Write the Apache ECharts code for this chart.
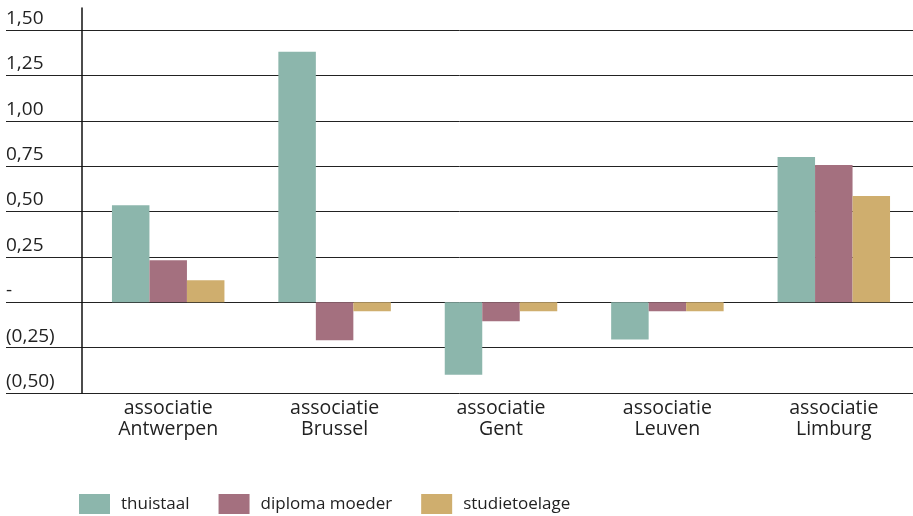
<!DOCTYPE html>
<html>
<head>
<meta charset="utf-8">
<script src="https://cdn.jsdelivr.net/npm/echarts@6/dist/echarts.min.js"></script>
<style>
  html, body { margin: 0; padding: 0; background: #fff; overflow: hidden; }
  #chart { width: 917px; height: 516px; }
</style>
</head>
<body>
<div id="chart"></div>
<script>
// categories en waarden
const categories = ['associatie\nAntwerpen', 'associatie\nBrussel', 'associatie\nGent', 'associatie\nLeuven', 'associatie\nLimburg']
const seriesNames = ['thuistaal', 'diploma moeder', 'studietoelage']
const thuistaal = [0.535, 1.38, -0.40, -0.205, 0.80]
const diplomaMoeder = [0.232, -0.21, -0.105, -0.05, 0.756]
const studietoelage = [0.121, -0.05, -0.05, -0.05, 0.585]

const colors = ['#8cb6ac', '#a4707f', '#cfae6e']
const font = '"Open Sans", Lato, sans-serif'
const textColor = '#222'

function fmt(v) {
  if (Math.abs(v) < 1e-9) return '-'
  const s = Math.abs(v).toFixed(2).replace('.', ',')
  return v < 0 ? '(' + s + ')' : s
}

const chart = echarts.init(document.getElementById('chart'))

const option = {
  animation: false,
  textStyle: { fontFamily: font, color: textColor },
  grid: [
    // achtergrond: rasterlijnen en labels over de hele breedte
    { left: 6, right: 4, top: 30, bottom: 123 },
    // staven
    { left: 85, right: 0, top: 8, bottom: 123 }
  ],
  legend: {
    left: 79,
    top: 494,
    padding: 0,
    itemWidth: 31,
    itemHeight: 20,
    itemGap: 29,
    icon: 'rect',
    data: seriesNames,
    textStyle: { fontFamily: font, fontSize: 17, color: textColor, padding: [0, 0, 0, 6] }
  },
  xAxis: [
    { type: 'value', gridIndex: 0, show: false, min: 0, max: 1 },
    {
      type: 'category',
      gridIndex: 1,
      data: categories,
      axisLine: { show: false },
      axisTick: { show: false },
      axisLabel: {
        fontFamily: font,
        fontSize: 19.5,
        lineHeight: 21,
        color: textColor,
        margin: 5,
        interval: 0
      }
    }
  ],
  yAxis: [
    {
      type: 'value',
      gridIndex: 0,
      min: -0.5,
      max: 1.5,
      interval: 0.25,
      axisLine: { show: false },
      axisTick: { show: false },
      splitLine: { lineStyle: { color: '#222', width: 1 } },
      axisLabel: {
        inside: true,
        margin: 0,
        align: 'left',
        verticalAlign: 'bottom',
        padding: [0, 0, 2, 0],
        fontFamily: font,
        fontSize: 19,
        color: textColor,
        formatter: fmt
      }
    },
    {
      type: 'value',
      gridIndex: 1,
      min: -0.5,
      max: 1.6214,
      offset: 3,
      axisLine: { show: true, lineStyle: { color: '#111', width: 1.5 } },
      axisTick: { show: false },
      axisLabel: { show: false },
      splitLine: { show: false }
    }
  ],
  series: [
    { name: seriesNames[0], data: thuistaal },
    { name: seriesNames[1], data: diplomaMoeder },
    { name: seriesNames[2], data: studietoelage }
  ].map((s, i) => ({
    ...s,
    type: 'bar',
    xAxisIndex: 1,
    yAxisIndex: 1,
    barGap: '0%',
    barCategoryGap: '32.4%',
    itemStyle: { color: colors[i] }
  }))
}

chart.setOption(option)
</script>
</body>
</html>
